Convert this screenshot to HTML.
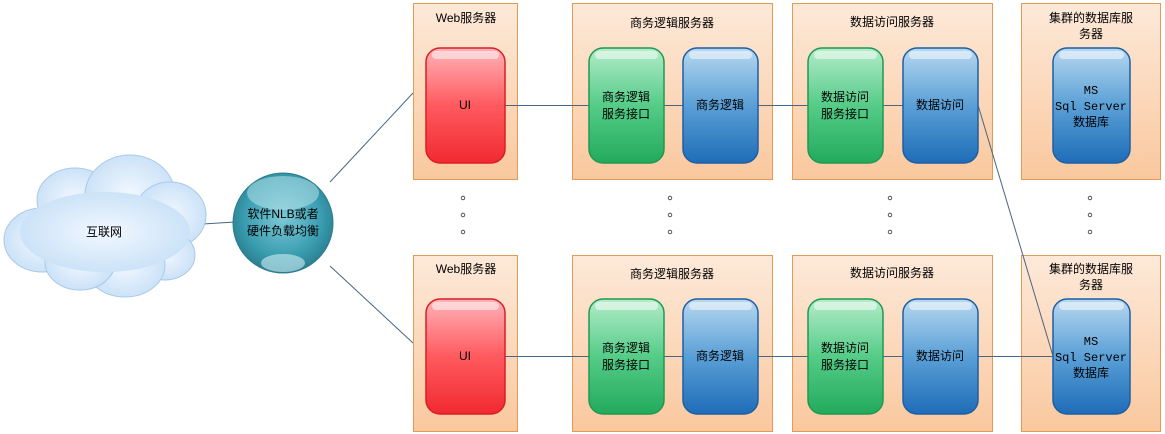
<!DOCTYPE html>
<html><head><meta charset="utf-8"><style>
html,body{margin:0;padding:0;background:#fff;}
svg{display:block;font-family:"Liberation Sans","Noto Sans CJK SC",sans-serif;}
.t{font-size:12px;fill:#000;text-anchor:middle;}
.m{font-family:"Liberation Mono","Noto Sans CJK SC",monospace;}
</style></head><body>
<svg width="1165" height="434" viewBox="0 0 1165 434" xmlns="http://www.w3.org/2000/svg">
<defs>
<linearGradient id="box" x1="0" y1="0" x2="0" y2="1"><stop offset="0" stop-color="#fde9d9"/><stop offset="1" stop-color="#fac89e"/></linearGradient>
<linearGradient id="red" x1="0" y1="0" x2="0" y2="1"><stop offset="0" stop-color="#ffb3b8"/><stop offset="0.5" stop-color="#ff5a5f"/><stop offset="1" stop-color="#f02a30"/></linearGradient>
<linearGradient id="grn" x1="0" y1="0" x2="0" y2="1"><stop offset="0" stop-color="#b4ecc9"/><stop offset="0.5" stop-color="#55cc88"/><stop offset="1" stop-color="#22aa5c"/></linearGradient>
<linearGradient id="blu" x1="0" y1="0" x2="0" y2="1"><stop offset="0" stop-color="#b8d8f0"/><stop offset="0.5" stop-color="#5a9fd6"/><stop offset="1" stop-color="#1f6db8"/></linearGradient>
<radialGradient id="sph" cx="0.5" cy="0.45" r="0.55"><stop offset="0" stop-color="#7cc9d6"/><stop offset="0.7" stop-color="#3a9db0"/><stop offset="1" stop-color="#2a7e90"/></radialGradient>
<radialGradient id="cld" cx="0.5" cy="0.5" r="0.6"><stop offset="0" stop-color="#f2f8ff"/><stop offset="1" stop-color="#c4def6"/></radialGradient>
</defs>

<g stroke="#4a6580" stroke-width="1" fill="none">
<line x1="203" y1="224" x2="235" y2="222"/>
<line x1="330" y1="182" x2="413" y2="93"/>
<line x1="330" y1="266" x2="413" y2="343"/>
</g>

<!-- cloud -->
<g fill="url(#cld)" stroke="#a9c9e8" stroke-width="1">
<ellipse cx="42" cy="240" rx="38" ry="32"/>
<ellipse cx="75" cy="200" rx="38" ry="32"/>
<ellipse cx="130" cy="195" rx="45" ry="40"/>
<ellipse cx="170" cy="215" rx="36" ry="33"/>
<ellipse cx="165" cy="255" rx="30" ry="25"/>
<ellipse cx="125" cy="265" rx="40" ry="32"/>
<ellipse cx="80" cy="262" rx="35" ry="28"/>
</g>
<ellipse cx="105" cy="232" rx="85" ry="40" fill="url(#cld)"/>
<text x="104" y="236" class="t">互联网</text>

<!-- sphere -->
<circle cx="283" cy="223" r="50" fill="url(#sph)" stroke="#2b7d8e"/>
<ellipse cx="283" cy="193" rx="36" ry="17" fill="#b5e2ea" opacity="0.55"/>
<ellipse cx="283" cy="263" rx="22" ry="9" fill="#cfeef3" opacity="0.6"/>
<text x="283" y="218" class="t">软件NLB或者</text>
<text x="283" y="235" class="t">硬件负载均衡</text>

<!-- containers -->
<g fill="url(#box)" stroke="#e39a55" stroke-width="1">
<rect x="413.5" y="3.5" width="104" height="176"/>
<rect x="572.5" y="3.5" width="200" height="176"/>
<rect x="792.5" y="3.5" width="200" height="176"/>
<rect x="1021.5" y="3.5" width="139" height="176"/>
<rect x="413.5" y="255.5" width="104" height="176"/>
<rect x="572.5" y="255.5" width="200" height="176"/>
<rect x="792.5" y="255.5" width="200" height="176"/>
<rect x="1021.5" y="255.5" width="139" height="176"/>
</g>

<g stroke="#4a6580" stroke-width="1" fill="none">
<line x1="505" y1="105.5" x2="589" y2="105.5"/>
<line x1="664" y1="105.5" x2="683" y2="105.5"/>
<line x1="758" y1="105.5" x2="808" y2="105.5"/>
<line x1="883" y1="105.5" x2="903" y2="105.5"/>
<line x1="505" y1="356.5" x2="589" y2="356.5"/>
<line x1="664" y1="356.5" x2="683" y2="356.5"/>
<line x1="758" y1="356.5" x2="808" y2="356.5"/>
<line x1="883" y1="356.5" x2="903" y2="356.5"/>
<line x1="978" y1="356.5" x2="1053" y2="356.5"/>
</g>

<g id="row">
<rect x="426" y="48" width="79" height="115" rx="14" fill="url(#red)" stroke="#d91e24" stroke-width="1.5"/>
<rect x="589" y="48" width="75" height="115" rx="14" fill="url(#grn)" stroke="#1e9a50" stroke-width="1.5"/>
<rect x="683" y="48" width="75" height="115" rx="14" fill="url(#blu)" stroke="#1c5fa5" stroke-width="1.5"/>
<rect x="808" y="48" width="75" height="115" rx="14" fill="url(#grn)" stroke="#1e9a50" stroke-width="1.5"/>
<rect x="903" y="48" width="75" height="115" rx="14" fill="url(#blu)" stroke="#1c5fa5" stroke-width="1.5"/>
<rect x="1053" y="48" width="77" height="115" rx="14" fill="url(#blu)" stroke="#1c5fa5" stroke-width="1.5"/>
<g fill="#fff" opacity="0.5">
<rect x="432" y="51" width="67" height="8" rx="4"/>
<rect x="595" y="51" width="63" height="8" rx="4"/>
<rect x="689" y="51" width="63" height="8" rx="4"/>
<rect x="814" y="51" width="63" height="8" rx="4"/>
<rect x="909" y="51" width="63" height="8" rx="4"/>
<rect x="1059" y="51" width="65" height="8" rx="4"/>
</g>
<text x="466" y="22" class="t">Web服务器</text>
<text x="672" y="27" class="t">商务逻辑服务器</text>
<text x="892" y="26" class="t">数据访问服务器</text>
<text x="1091" y="22" class="t">集群的数据库服</text>
<text x="1091" y="38" class="t">务器</text>
<text x="465" y="109" class="t">UI</text>
<text x="626" y="101" class="t">商务逻辑</text>
<text x="626" y="118" class="t">服务接口</text>
<text x="720" y="109" class="t">商务逻辑</text>
<text x="845" y="101" class="t">数据访问</text>
<text x="845" y="118" class="t">服务接口</text>
<text x="940" y="109" class="t">数据访问</text>
<text x="1091" y="94" class="t m">MS</text>
<text x="1091" y="110" class="t m">Sql Server</text>
<text x="1091" y="126" class="t m">数据库</text>
</g>
<use href="#row" y="251"/>

<line x1="978" y1="105" x2="1053" y2="356" stroke="#4a6580" stroke-width="1"/>

<g fill="none" stroke="#333" stroke-width="0.8">
<circle cx="463" cy="198" r="1.8"/><circle cx="463" cy="215" r="1.8"/><circle cx="463" cy="232" r="1.8"/>
<circle cx="670" cy="198" r="1.8"/><circle cx="670" cy="215" r="1.8"/><circle cx="670" cy="232" r="1.8"/>
<circle cx="890" cy="198" r="1.8"/><circle cx="890" cy="215" r="1.8"/><circle cx="890" cy="232" r="1.8"/>
<circle cx="1090" cy="198" r="1.8"/><circle cx="1090" cy="215" r="1.8"/><circle cx="1090" cy="232" r="1.8"/>
</g>
</svg>
</body></html>
